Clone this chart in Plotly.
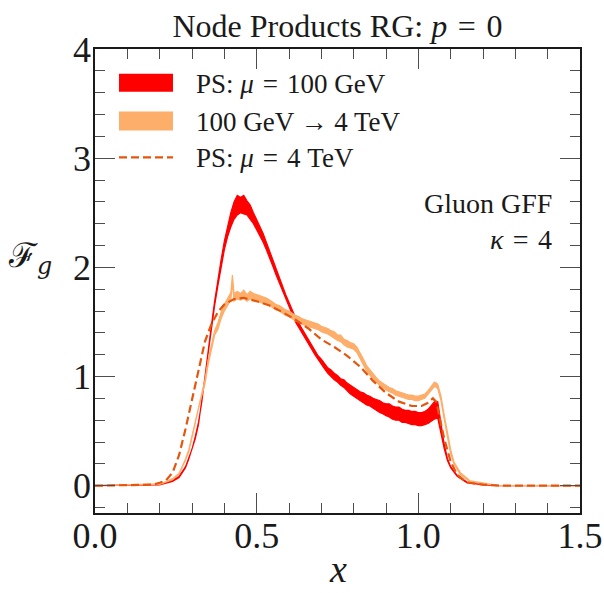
import plotly.graph_objects as go

# ---- PS: mu = 100 GeV (band: lower / upper edge) ----
X_PS100 = [0.00, 0.20, 0.22, 0.24, 0.26, 0.28, 0.29, 0.30, 0.31, 0.32, 0.33, 0.34, 0.35,
           0.36, 0.37, 0.38, 0.39, 0.40, 0.41, 0.42, 0.43, 0.44, 0.45, 0.46, 0.47, 0.48,
           0.49, 0.50, 0.51, 0.52, 0.53, 0.54, 0.55, 0.56, 0.57, 0.58, 0.59, 0.60, 0.61,
           0.62, 0.63, 0.64, 0.65, 0.66, 0.67, 0.68, 0.69, 0.70, 0.71, 0.72, 0.73, 0.74,
           0.75, 0.76, 0.77, 0.78, 0.79, 0.80, 0.81, 0.82, 0.83, 0.84, 0.85, 0.86, 0.87,
           0.88, 0.89, 0.90, 0.91, 0.92, 0.93, 0.94, 0.95, 0.96, 0.97, 0.98, 0.99, 1.00,
           1.01, 1.02, 1.03, 1.04, 1.05, 1.06, 1.07, 1.08, 1.09, 1.10, 1.12, 1.15, 1.20,
           1.25, 1.50]
PS100_HI = [0.0, 0.012, 0.028, 0.05, 0.085, 0.175, 0.255, 0.335, 0.45, 0.58, 0.76, 1.01, 1.22,
            1.47, 1.69, 1.89, 2.07, 2.24, 2.38, 2.50, 2.60, 2.66, 2.64, 2.66, 2.61, 2.57,
            2.50, 2.44, 2.37, 2.31, 2.23, 2.15, 2.07, 1.99, 1.90, 1.82, 1.75, 1.68, 1.61,
            1.54, 1.49, 1.44, 1.39, 1.34, 1.29, 1.24, 1.19, 1.16, 1.12, 1.08, 1.06, 1.03,
            1.01, 0.98, 0.97, 0.94, 0.92, 0.90, 0.88, 0.86, 0.85, 0.83, 0.82, 0.80, 0.79,
            0.78, 0.76, 0.75, 0.75, 0.73, 0.72, 0.72, 0.70, 0.69, 0.69, 0.68, 0.68, 0.67,
            0.67, 0.68, 0.70, 0.74, 0.77, 0.77, 0.56, 0.38, 0.25, 0.175, 0.095, 0.033, 0.012,
            0.0, 0.0]
PS100_LO = [0.0, 0.008, 0.022, 0.04, 0.075, 0.165, 0.245, 0.325, 0.43, 0.56, 0.74, 0.99, 1.20,
            1.43, 1.65, 1.83, 2.01, 2.16, 2.28, 2.37, 2.44, 2.48, 2.50, 2.49, 2.48, 2.44,
            2.40, 2.35, 2.29, 2.23, 2.16, 2.09, 2.01, 1.93, 1.85, 1.78, 1.71, 1.64, 1.57,
            1.50, 1.45, 1.40, 1.35, 1.30, 1.25, 1.20, 1.15, 1.11, 1.07, 1.03, 1.00, 0.97,
            0.95, 0.92, 0.90, 0.87, 0.84, 0.82, 0.80, 0.78, 0.76, 0.74, 0.73, 0.71, 0.69,
            0.67, 0.66, 0.64, 0.63, 0.61, 0.60, 0.60, 0.58, 0.58, 0.57, 0.56, 0.56, 0.55,
            0.55, 0.56, 0.57, 0.59, 0.61, 0.62, 0.48, 0.34, 0.23, 0.165, 0.085, 0.027, 0.008,
            0.0, 0.0]

# ---- 100 GeV -> 4 TeV (band: lower / upper edge) ----
X_EVOL = [0.00, 0.20, 0.22, 0.24, 0.26, 0.27, 0.28, 0.29, 0.30, 0.31, 0.32, 0.33, 0.34,
          0.35, 0.36, 0.37, 0.38, 0.39, 0.40, 0.41, 0.42, 0.425, 0.43, 0.44, 0.45, 0.46,
          0.47, 0.48, 0.49, 0.50, 0.51, 0.52, 0.53, 0.54, 0.55, 0.56, 0.57, 0.58, 0.59,
          0.60, 0.61, 0.62, 0.63, 0.64, 0.65, 0.66, 0.67, 0.68, 0.69, 0.70, 0.71, 0.72,
          0.73, 0.74, 0.75, 0.76, 0.77, 0.78, 0.79, 0.80, 0.81, 0.82, 0.83, 0.84, 0.85,
          0.86, 0.87, 0.88, 0.89, 0.90, 0.91, 0.92, 0.93, 0.94, 0.95, 0.96, 0.97, 0.98,
          0.99, 1.00, 1.01, 1.02, 1.03, 1.04, 1.05, 1.06, 1.07, 1.08, 1.09, 1.10, 1.11,
          1.13, 1.16, 1.20, 1.25, 1.50]
EVOL_HI = [0.0, 0.017, 0.038, 0.065, 0.115, 0.175, 0.245, 0.33, 0.46, 0.59, 0.73, 0.84, 0.97,
           1.15, 1.29, 1.42, 1.49, 1.59, 1.66, 1.71, 1.77, 1.93, 1.76, 1.78, 1.76, 1.79,
           1.75, 1.78, 1.76, 1.75, 1.74, 1.73, 1.72, 1.70, 1.68, 1.66, 1.65, 1.63, 1.61,
           1.60, 1.58, 1.56, 1.55, 1.53, 1.52, 1.51, 1.50, 1.49, 1.48, 1.46, 1.45, 1.44,
           1.42, 1.41, 1.38, 1.38, 1.34, 1.33, 1.31, 1.30, 1.27, 1.22, 1.16, 1.10, 1.06,
           1.03, 0.99, 0.96, 0.94, 0.92, 0.90, 0.89, 0.87, 0.86, 0.85, 0.84, 0.83, 0.83,
           0.82, 0.82, 0.83, 0.84, 0.87, 0.91, 0.95, 0.93, 0.82, 0.65, 0.48, 0.33, 0.22,
           0.12, 0.045, 0.022, 0.0, 0.0]
EVOL_LO = [0.0, 0.013, 0.032, 0.055, 0.105, 0.165, 0.235, 0.31, 0.44, 0.57, 0.71, 0.82, 0.93,
           1.11, 1.25, 1.38, 1.43, 1.53, 1.60, 1.65, 1.70, 1.86, 1.69, 1.71, 1.70, 1.72,
           1.69, 1.71, 1.70, 1.69, 1.68, 1.67, 1.66, 1.65, 1.63, 1.61, 1.60, 1.58, 1.56,
           1.55, 1.53, 1.51, 1.50, 1.48, 1.47, 1.46, 1.45, 1.44, 1.43, 1.41, 1.40, 1.39,
           1.37, 1.35, 1.33, 1.32, 1.29, 1.27, 1.26, 1.25, 1.22, 1.17, 1.11, 1.05, 1.01,
           0.98, 0.95, 0.92, 0.90, 0.88, 0.86, 0.85, 0.83, 0.82, 0.81, 0.80, 0.79, 0.79,
           0.78, 0.78, 0.79, 0.80, 0.83, 0.87, 0.91, 0.89, 0.78, 0.61, 0.44, 0.29, 0.20,
           0.10, 0.035, 0.018, 0.0, 0.0]

# ---- PS: mu = 4 TeV (single curve) ----
X_PS4 = [0.00, 0.18, 0.20, 0.22, 0.24, 0.26, 0.28, 0.30, 0.32, 0.34, 0.36, 0.38, 0.40,
         0.43, 0.46, 0.50, 0.54, 0.58, 0.62, 0.66, 0.70, 0.74, 0.78, 0.82, 0.86, 0.90,
         0.94, 0.98, 1.01, 1.03, 1.045, 1.055, 1.065, 1.08, 1.10, 1.12, 1.15, 1.20,
         1.25, 1.50]
PS4_Y = [0.0, 0.01, 0.027, 0.05, 0.12, 0.28, 0.52, 0.79, 1.08, 1.32, 1.48, 1.59, 1.66,
         1.71, 1.72, 1.69, 1.65, 1.59, 1.52, 1.44, 1.34, 1.27, 1.19, 1.09, 0.96, 0.85,
         0.77, 0.73, 0.73, 0.76, 0.80, 0.77, 0.64, 0.43, 0.22, 0.10, 0.03, 0.01,
         0.0, 0.0]

SP = "\u2004"  # three-per-em space around relation signs (math spacing)
LEGEND_LABELS = [f"PS: <i>μ</i>{SP}={SP}100 GeV", "100 GeV → 4 TeV", f"PS: <i>μ</i>{SP}={SP}4 TeV"]
RED = "#ff0000"
LIGHT = "#fdae6b"
DARK = "#e6550d"
FONT = "Liberation Serif"
INK = "#1a1a1a"
TICK = "#4d4d4d"


def band(x, lo, hi, color, name):
    return go.Scatter(
        x=list(x) + list(x)[::-1],
        y=list(hi) + list(lo)[::-1],
        mode="lines",
        fill="toself",
        fillcolor=color,
        line=dict(color=color, width=1.2),
        name=name,
        showlegend=False,
        hoverinfo="skip",
    )


fig = go.Figure()
fig.add_trace(band(X_PS100, PS100_LO, PS100_HI, RED, LEGEND_LABELS[0]))
fig.add_trace(band(X_EVOL, EVOL_LO, EVOL_HI, LIGHT, LEGEND_LABELS[1]))
fig.add_trace(go.Scatter(x=X_PS4, y=PS4_Y, mode="lines", name=LEGEND_LABELS[2],
                         line=dict(color=DARK, width=2.2, dash="8px,4px"),
                         showlegend=False))

axis_common = dict(
    showgrid=False, zeroline=False,
    showline=True, linecolor=INK, linewidth=1.5, mirror="ticks",
    ticks="inside", ticklen=20, tickwidth=1.3, tickcolor=TICK,
    tickfont=dict(family=FONT, size=36, color=INK),
)
fig.update_xaxes(range=[0, 1.5], tickmode="linear", tick0=0, dtick=0.5, tickformat=".1f",
                 minor=dict(dtick=0.1, tick0=0, ticks="inside", ticklen=10,
                            tickwidth=1.3, tickcolor=TICK, showgrid=False),
                 ticklabelstandoff=-10, **axis_common)
fig.update_yaxes(range=[-0.25, 4.0], tickmode="linear", tick0=0, dtick=1,
                 minor=dict(dtick=0.2, tick0=0, ticks="inside", ticklen=10,
                            tickwidth=1.3, tickcolor=TICK, showgrid=False),
                 ticklabelstandoff=-5, **axis_common)

# legend drawn in axis-domain coordinates
shapes = [
    dict(type="rect", xref="x domain", yref="y domain", x0=0.0495, x1=0.1608,
         y0=0.908, y1=0.9465, fillcolor=RED, line=dict(width=0)),
    dict(type="rect", xref="x domain", yref="y domain", x0=0.0495, x1=0.1608,
         y0=0.8244, y1=0.8651, fillcolor=LIGHT, line=dict(width=0)),
    dict(type="line", xref="x domain", yref="y domain", x0=0.0495, x1=0.1608,
         y0=0.7666, y1=0.7666, line=dict(color=DARK, width=2.2, dash="8px,4px")),
]
annotations = []
for txt, yd in zip(LEGEND_LABELS, [0.925, 0.843, 0.765]):
    annotations.append(dict(text=txt, xref="x domain", yref="y domain", x=0.205, y=yd,
                            xanchor="left", yanchor="middle", showarrow=False,
                            font=dict(family=FONT, size=27, color=INK)))

annotations += [
    dict(text="Gluon GFF", xref="x domain", yref="y domain", x=0.946, y=0.666,
         xanchor="right", yanchor="middle", showarrow=False,
         font=dict(family=FONT, size=28, color=INK)),
    dict(text=f"<i>κ</i>{SP}={SP}4", xref="x domain", yref="y domain", x=0.946, y=0.59,
         xanchor="right", yanchor="middle", showarrow=False,
         font=dict(family=FONT, size=28, color=INK)),
    dict(text="<i>x</i>", xref="x domain", yref="y domain", x=0.5, y=-0.12,
         xanchor="center", yanchor="middle", showarrow=False,
         font=dict(family=FONT, size=38, color=INK)),
    dict(text="ℱ<sub><i>g</i></sub>", xref="x domain", yref="y domain", x=-0.135, y=0.55,
         xanchor="center", yanchor="middle", showarrow=False,
         font=dict(family="DejaVu Serif", size=34, color=INK)),
]

fig.update_layout(
    width=604, height=593,
    margin=dict(l=95, r=24, t=49, b=80, autoexpand=False),
    paper_bgcolor="white", plot_bgcolor="white",
    title=dict(text=f"Node Products RG: <i>p</i>{SP}={SP}0", x=0.5, xref="paper",
               xanchor="center", y=1 - 26 / 593, yref="container", yanchor="middle",
               font=dict(family=FONT, size=32, color=INK)),
    shapes=shapes, annotations=annotations, showlegend=False,
)

fig.write_html("out.html")
